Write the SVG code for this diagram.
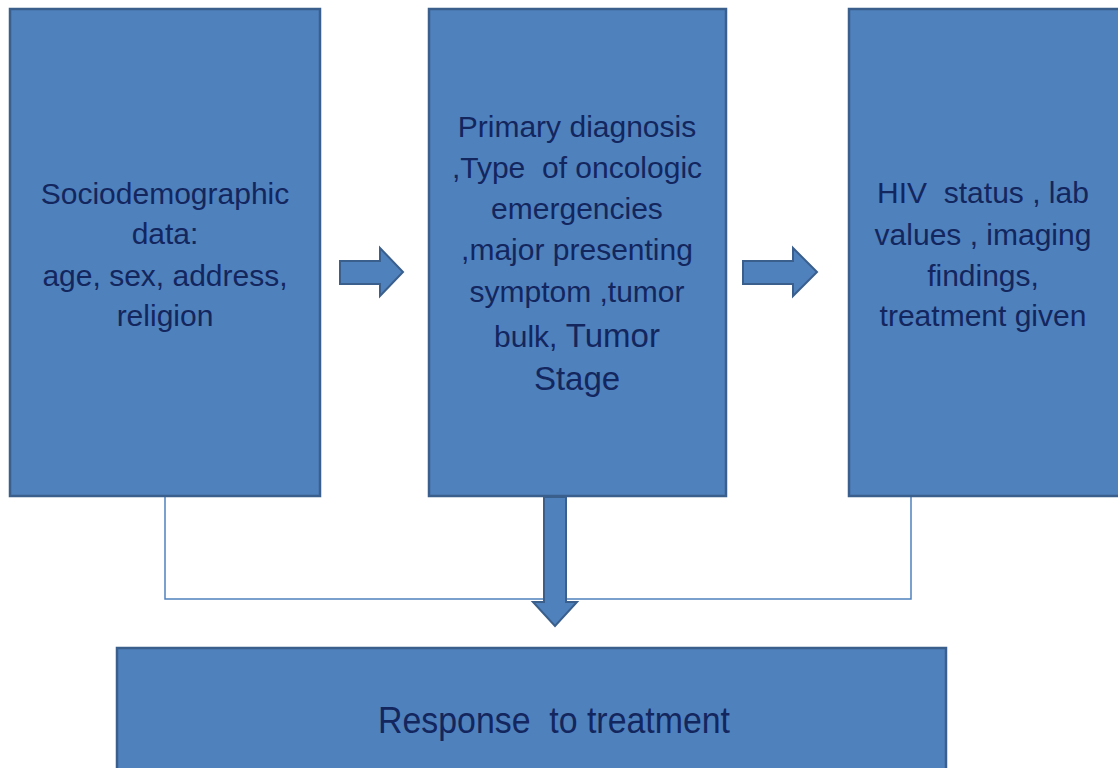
<svg xmlns="http://www.w3.org/2000/svg" width="1118" height="768" viewBox="0 0 1118 768">
<style>
.box{fill:#4F81BD;stroke:#3A5F8C;stroke-width:2.5}
.arr{fill:#4F81BD;stroke:#3A5F8C;stroke-width:2;stroke-linejoin:miter}
.t{font-family:"Liberation Sans",Arial,sans-serif;font-size:30px;fill:#13265E;text-anchor:middle;white-space:pre}
.big{font-size:33px}
.conn{fill:none;stroke:#4F81BD;stroke-width:1.5}
</style>
<rect width="1118" height="768" fill="#FFFFFF"/>
<g id="connectors">
<polyline class="conn" points="165,497 165,599 911,599 911,497"/>
<polygon class="arr" points="340,261 380,261 380,248 403,272 380,296 380,284 340,284"/>
<polygon class="arr" points="743,261 793,261 793,248 817,272 793,296 793,284 743,284"/>
<polygon class="arr" points="544,497 566,497 566,602 577,602 555,626 533,602 544,602"/>
</g>
<g id="node-socio">
<rect class="box" x="10" y="9" width="310" height="487"/>
<text class="t" x="165" y="204">Sociodemographic</text>
<text class="t" x="165" y="244">data:</text>
<text class="t" x="165" y="286">age, sex, address,</text>
<text class="t" x="165" y="326">religion</text>
</g>
<g id="node-primary">
<rect class="box" x="429" y="9" width="297" height="487"/>
<text class="t" x="577" y="137">Primary diagnosis</text>
<text class="t" x="577" y="178">,Type  of oncologic</text>
<text class="t" x="577" y="219">emergencies</text>
<text class="t" x="577" y="260">,major presenting</text>
<text class="t" x="577" y="302">symptom ,tumor</text>
<text class="t" x="577" y="347">bulk, <tspan class="big">Tumor</tspan></text>
<text class="t big" x="577" y="390">Stage</text>
</g>
<g id="node-hiv">
<rect class="box" x="849" y="9" width="272" height="487"/>
<text class="t" x="983" y="203">HIV  status , lab</text>
<text class="t" x="983" y="245">values , imaging</text>
<text class="t" x="983" y="286">findings,</text>
<text class="t" x="983" y="326">treatment given</text>
</g>
<g id="node-response">
<rect class="box" x="117" y="648" width="829" height="130"/>
<text class="t" x="554" y="733" style="font-size:36px" textLength="352" lengthAdjust="spacingAndGlyphs">Response  to treatment</text>
</g>
</svg>
